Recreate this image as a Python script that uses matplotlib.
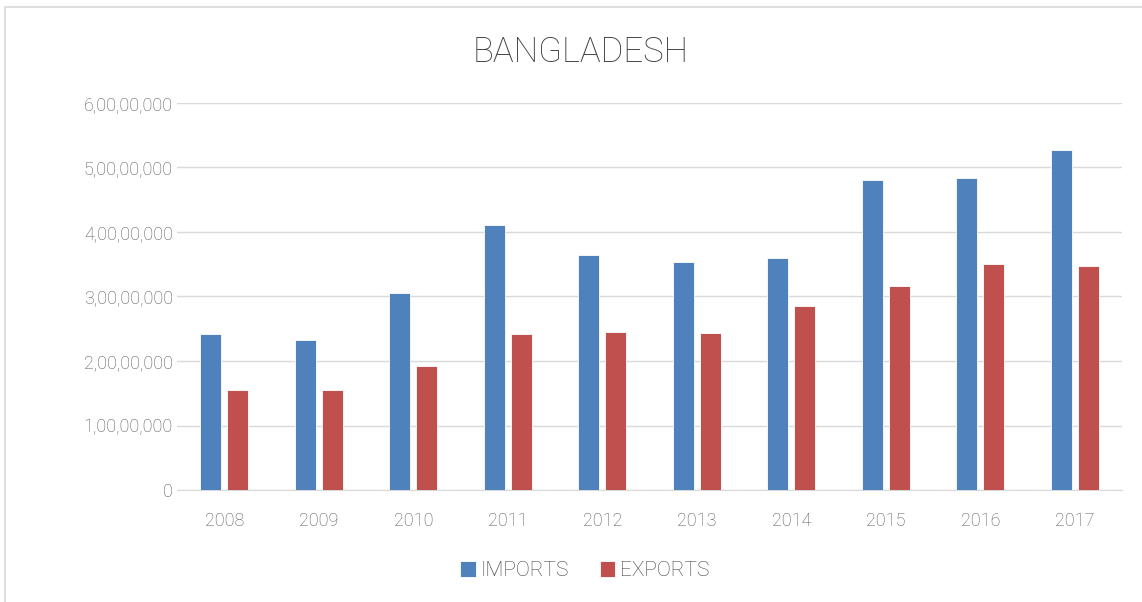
import matplotlib.pyplot as plt
import numpy as np
from matplotlib.patches import Rectangle
from matplotlib.ticker import FuncFormatter

years = ["2008", "2009", "2010", "2011", "2012", "2013", "2014", "2015", "2016", "2017"]
imports = [24200000, 23300000, 30500000, 41150000, 36400000, 35400000, 36000000, 48000000, 48300000, 52700000]
exports = [15540000, 15540000, 19300000, 24200000, 24500000, 24400000, 28450000, 31650000, 35000000, 34800000]

plt.rcParams['font.family'] = ['Roboto', 'DejaVu Sans']
plt.rcParams['font.weight'] = 'light'
text_col = "#404040"


def indian(v, pos):
    v = int(round(v))
    if v == 0:
        return "0"
    s = str(v)
    last3 = s[-3:]
    rest = s[:-3]
    parts = []
    while len(rest) > 2:
        parts.insert(0, rest[-2:])
        rest = rest[:-2]
    if rest:
        parts.insert(0, rest)
    return ",".join(parts + [last3])


fig = plt.figure(figsize=(11.42, 6.02), dpi=100)
ax = fig.add_axes([0.155, 0.186, 0.8275, 0.643])

x = np.arange(len(years))
w = 0.222
off = 0.143
ax.bar(x - off, imports, w, color="#4F81BD", edgecolor="white", linewidth=0.6, label="IMPORTS", zorder=3)
ax.bar(x + off, exports, w, color="#C0504D", edgecolor="white", linewidth=0.6, label="EXPORTS", zorder=3)

ax.set_xlim(-0.5, len(years) - 0.5)
ax.set_ylim(0, 60000000)
ax.set_yticks(np.arange(0, 60000001, 10000000))
ax.yaxis.set_major_formatter(FuncFormatter(indian))
ax.set_xticks(x)
ax.set_xticklabels(years)
ax.grid(axis="y", color="#d9d9d9", linewidth=1, zorder=0)
for s in ["top", "right", "left"]:
    ax.spines[s].set_visible(False)
ax.spines["bottom"].set_color("#d9d9d9")
ax.tick_params(axis="both", length=0, labelsize=13, labelcolor="#595959")
ax.tick_params(axis="y", pad=3)
ax.tick_params(axis="x", pad=16)

fig.text(0.508, 0.914, "BANGLADESH", ha="center", va="center", fontsize=25, color=text_col)

leg = fig.legend(loc="center", bbox_to_anchor=(0.512, 0.052), ncol=2, frameon=False,
                 fontsize=15, handlelength=0.75, handleheight=0.75, handletextpad=0.2,
                 columnspacing=1.5)
for t in leg.get_texts():
    t.set_color(text_col)

fig.patches.append(Rectangle((0.004, -0.01), 1.2, 0.999, transform=fig.transFigure,
                             fill=False, edgecolor="#d9d9d9", linewidth=1.2))

fig.savefig("out.png", dpi=100)
